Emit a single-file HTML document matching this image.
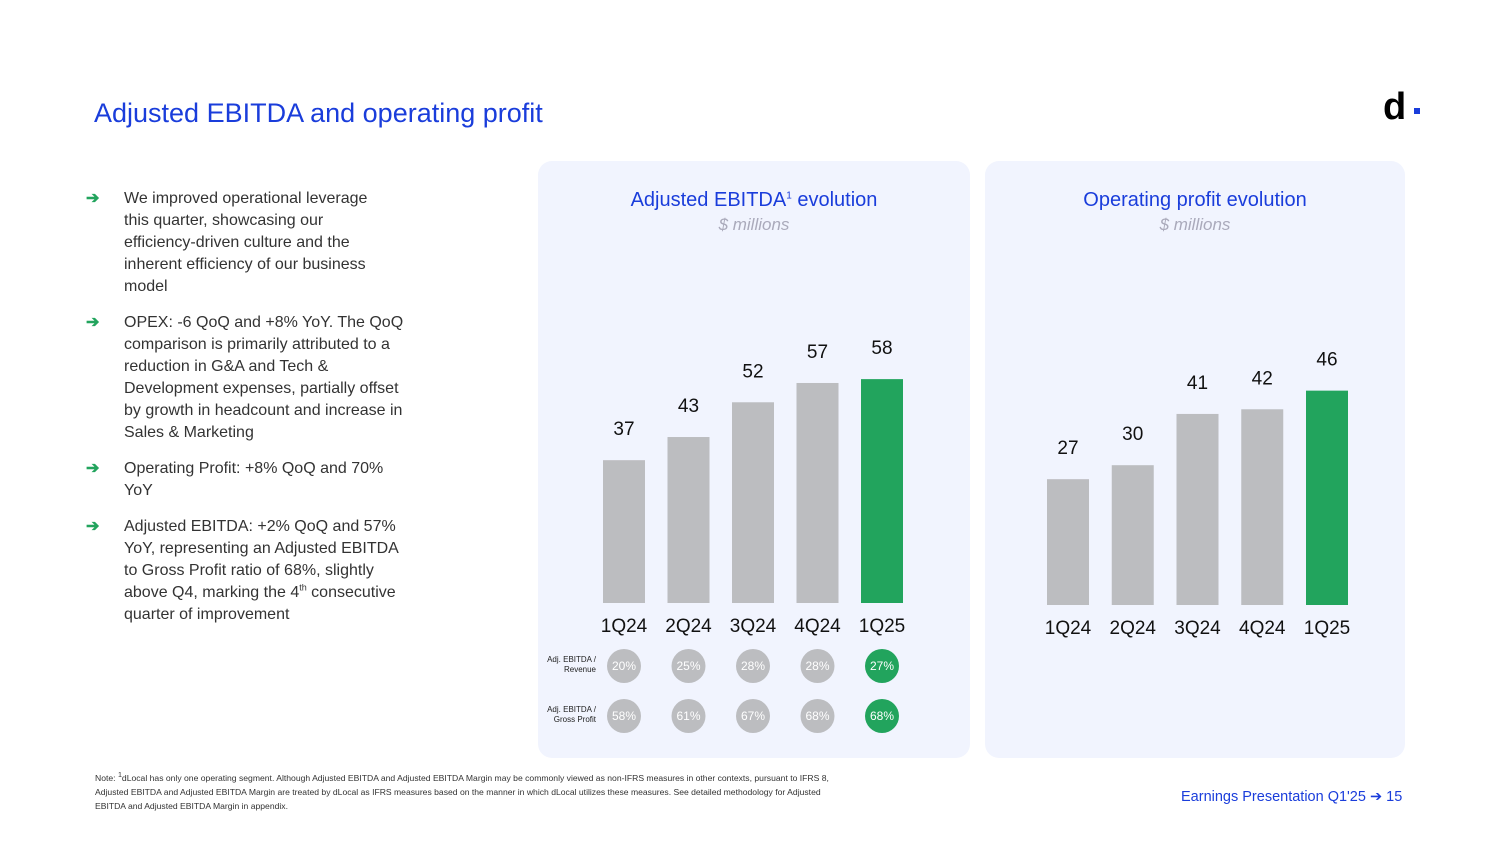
<!DOCTYPE html>
<html><head><meta charset="utf-8"><style>
body{margin:0;width:1500px;height:844px;background:#fff;font-family:"Liberation Sans",sans-serif;position:relative;overflow:hidden}
.abs{position:absolute}
h1{position:absolute;left:94px;top:98px;margin:0;font-size:27px;font-weight:normal;color:#1a3ddb;letter-spacing:0}
.b{position:absolute;left:124px;width:262px;font-size:16px;line-height:22px;color:#333}
.b sup{font-size:9px;line-height:0}
.arr{position:absolute;left:86px;color:#22a45d;font-size:16px;font-weight:bold}
.panel{position:absolute;top:161px;height:597px;background:#f1f4fe;border-radius:14px}
.pt{position:absolute;width:100%;text-align:center;top:28px;font-size:20px;color:#1a3ddb}
.ps{position:absolute;width:100%;text-align:center;top:54px;font-size:17px;color:#aab;font-style:italic}
</style></head><body>
<h1>Adjusted EBITDA and operating profit</h1>
<div class="abs" style="left:1383px;top:86px;font-size:38px;font-weight:bold;color:#000">d</div>
<div class="abs" style="left:1414px;top:108px;width:6px;height:6px;background:#1a3ddb"></div>

<div class="arr" style="top:188px">➔</div>
<div class="b" style="top:188px">We improved operational leverage this quarter, showcasing our efficiency-driven culture and the inherent efficiency of our business model</div>
<div class="arr" style="top:312px">➔</div>
<div class="b" style="top:312px;width:290px">OPEX: -6 QoQ and +8% YoY. The QoQ comparison is primarily attributed to a reduction in G&amp;A and Tech &amp; Development expenses, partially offset by growth in headcount and increase in Sales &amp; Marketing</div>
<div class="arr" style="top:458px">➔</div>
<div class="b" style="top:458px">Operating Profit: +8% QoQ and 70% YoY</div>
<div class="arr" style="top:516px">➔</div>
<div class="b" style="top:516px;width:275px">Adjusted EBITDA: +2% QoQ and 57% YoY, representing an Adjusted EBITDA to Gross Profit ratio of 68%, slightly above Q4, marking the 4<sup>th</sup> consecutive quarter of improvement</div>

<div class="panel" style="left:538px;width:432px">
<div class="pt">Adjusted EBITDA<sup style="font-size:10px">1</sup> evolution</div>
<div class="ps">$ millions</div>
</div>
<div class="panel" style="left:985px;width:420px">
<div class="pt">Operating profit evolution</div>
<div class="ps">$ millions</div>
</div>
<svg class="abs" style="left:0;top:0" width="1500" height="844" id="chart"></svg>

<div class="abs" style="left:95px;top:771px;width:750px;font-size:8.6px;line-height:14px;color:#333">Note: <sup style="line-height:0">1</sup>dLocal has only one operating segment. Although Adjusted EBITDA and Adjusted EBITDA Margin may be commonly viewed as non-IFRS measures in other contexts, pursuant to IFRS 8, Adjusted EBITDA and Adjusted EBITDA Margin are treated by dLocal as IFRS measures based on the manner in which dLocal utilizes these measures. See detailed methodology for Adjusted EBITDA and Adjusted EBITDA Margin in appendix.</div>
<div class="abs" style="left:1181px;top:789px;font-size:14.5px;color:#1a3ddb">Earnings Presentation Q1'25 ➔ 15</div>

<script>
const categories=["1Q24","2Q24","3Q24","4Q24","1Q25"];
const ebitdaValues=[37,43,52,57,58];
const opValues=[27,30,41,42,46];
const ebitdaRevenue=["20%","25%","28%","28%","27%"];
const ebitdaGross=["58%","61%","67%","68%","68%"];
const svg=document.getElementById('chart');
const NS="http://www.w3.org/2000/svg";
function mk(t,a,txt){const e=document.createElementNS(NS,t);for(const k in a)e.setAttribute(k,a[k]);if(txt!==undefined)e.textContent=txt;svg.appendChild(e);return e;}
function drawChart(vals,x0,step,base,scale,name){
  vals.forEach((v,i)=>{
    const cx=x0+i*step, h=v*scale, col=i===vals.length-1?'#22a45d':'#bcbdc0';
    const r=mk('rect',{x:cx-21,y:base-h,width:42,height:h,fill:col});
    
    
    const t=mk('text',{x:cx,y:base-h-25,'text-anchor':'middle','font-size':19,fill:'#111','font-family':'Liberation Sans'},v);
    
    
    const c=mk('text',{x:cx,y:base+29,'text-anchor':'middle','font-size':19,fill:'#111','font-family':'Liberation Sans'},categories[i]);
    
    
  });
}
drawChart(ebitdaValues,624,64.5,603,3.86,'ebitda');
drawChart(opValues,1068,64.75,605,4.66,'op');
function circles(arr,y,lab1,lab2){
  const a=mk('text',{x:596,y:y-4,'text-anchor':'end','font-size':8,fill:'#222'},lab1);
  
  
  const b=mk('text',{x:596,y:y+6,'text-anchor':'end','font-size':8,fill:'#222'},lab2);
  
  
  arr.forEach((v,i)=>{
    const cx=624+i*64.5;
    const c=mk('circle',{cx:cx,cy:y,r:17,fill:i===arr.length-1?'#22a45d':'#bcbdc0'});
    
    
    const t=mk('text',{x:cx,y:y+4,'text-anchor':'middle','font-size':12,fill:'#fff'},v);
    
    
  });
}
circles(ebitdaRevenue,666,'Adj. EBITDA /','Revenue');
circles(ebitdaGross,716,'Adj. EBITDA /','Gross Profit');
</script>
</body></html>
